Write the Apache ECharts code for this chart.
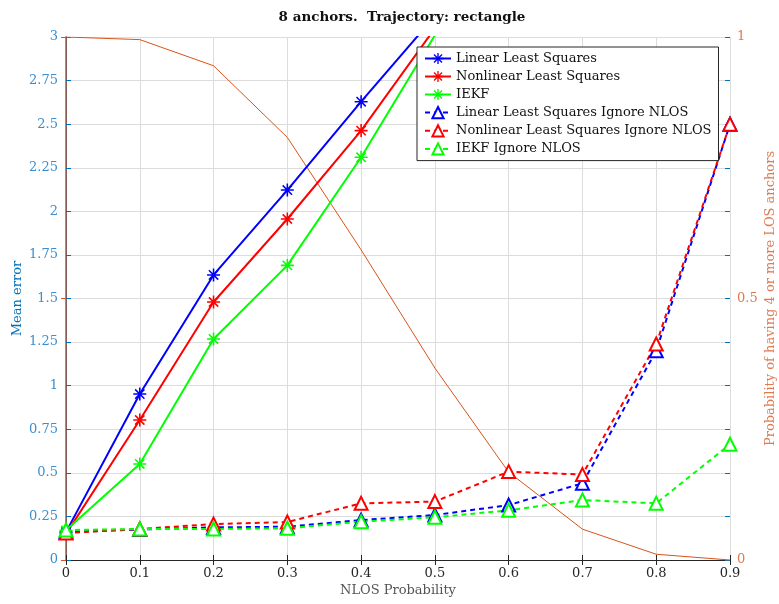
<!DOCTYPE html>
<html>
<head>
<meta charset="utf-8">
<script src="https://cdn.jsdelivr.net/npm/echarts@6/dist/echarts.min.js"></script>
<style>
  html, body { margin: 0; padding: 0; background: #fff; }
  #chart { width: 779px; height: 604px; }
</style>
</head>
<body>
<div id="chart"></div>
<script>
// NLOS probability (x)
const nlosProb = [0, 0.1, 0.2, 0.3, 0.4, 0.5, 0.6, 0.7, 0.8, 0.9];
// mean error, lines leave the plot after 0.5
const llsErr = [0.16, 0.952, 1.635, 2.122, 2.629, 3.12, null, null, null, null];
const nlsErr = [0.15, 0.803, 1.48, 1.956, 2.463, 3.05, null, null, null, null];
const iekfErr = [0.17, 0.551, 1.268, 1.69, 2.31, 3.01, null, null, null, null];
const llsIgnErr = [0.16, 0.175, 0.187, 0.191, 0.229, 0.258, 0.315, 0.44, 1.2, 2.5];
const nlsIgnErr = [0.155, 0.178, 0.206, 0.218, 0.325, 0.335, 0.507, 0.49, 1.239, 2.5];
const iekfIgnErr = [0.172, 0.178, 0.178, 0.182, 0.22, 0.245, 0.285, 0.344, 0.325, 0.664];
// probability of having 4 or more LOS anchors (right axis)
const losProb = [1, 0.995, 0.945, 0.808, 0.593, 0.367, 0.168, 0.059, 0.011, 0];

const seriesNames = ['Linear Least Squares', 'Nonlinear Least Squares', 'IEKF',
  'Linear Least Squares Ignore NLOS', 'Nonlinear Least Squares Ignore NLOS', 'IEKF Ignore NLOS'];

const FONT = 'DejaVu Serif';
const leftColor = '#0072BD';
const rightColor = '#D95319';
// asterisk marker
const asterisk = 'path://M8.8,0H11.2V20H8.8Z M0,8.8H20V11.2H0Z M2,3.7L3.7,2L18,16.3L16.3,18Z M16.3,2L18,3.7L3.7,18L2,16.3Z';

function pairs(ys) {
    return nlosProb.map((x, i) => [x, ys[i]]);
}

function errSeries(name, ys, color, dashed) {
    return {
        name: name,
        type: 'line',
        yAxisIndex: 0,
        data: pairs(ys),
        symbol: dashed ? 'emptyTriangle' : asterisk,
        symbolSize: 13,
        showAllSymbol: true,
        lineStyle: { color: color, width: 2, type: dashed ? [5, 4] : 'solid' },
        itemStyle: { color: color, borderWidth: 2 },
        emphasis: { disabled: true },
        animation: false
    };
}

let myChart = echarts.init(document.getElementById('chart'));
let option = {
    backgroundColor: '#fff',
    animation: false,
    title: {
        text: '8 anchors.  Trajectory: rectangle',
        left: 397,
        top: 5,
        textAlign: 'center',
        textStyle: { fontFamily: FONT, fontSize: 13.5, fontWeight: 'bold', color: '#111' }
    },
    grid: { left: 66, right: 49, top: 37, bottom: 44, containLabel: false, outerBoundsMode: 'none' },
    legend: {
        orient: 'vertical',
        left: 417,
        top: 47,
        data: seriesNames,
        itemWidth: 26,
        itemHeight: 14,
        itemGap: 5,
        padding: [5, 7, 5, 7],
        backgroundColor: '#fff',
        borderColor: '#262626',
        borderWidth: 1,
        borderRadius: 0,
        textStyle: { fontFamily: FONT, fontSize: 13, color: '#111' }
    },
    xAxis: [{
        type: 'value',
        min: 0, max: 0.9, interval: 0.1,
        name: 'NLOS Probability',
        nameLocation: 'middle',
        nameGap: 24,
        nameMoveOverlap: false,
        nameTextStyle: { fontFamily: FONT, fontSize: 13, color: '#555' },
        axisLine: { lineStyle: { color: '#262626', width: 1 } },
        axisTick: { inside: true, length: 5, lineStyle: { color: '#262626' } },
        axisLabel: { fontFamily: FONT, fontSize: 13, color: '#262626', margin: 7 },
        splitLine: { show: true, lineStyle: { color: '#dcdcdc', width: 1 } }
    }, {
        type: 'value',
        position: 'top',
        min: 0, max: 0.9, interval: 0.1,
        axisLine: { lineStyle: { color: '#262626', width: 1 } },
        axisTick: { inside: true, length: 5, lineStyle: { color: '#262626' } },
        axisLabel: { show: false },
        splitLine: { show: false }
    }],
    yAxis: [{
        type: 'value',
        min: 0, max: 3, interval: 0.25,
        name: 'Mean error',
        nameLocation: 'middle',
        nameGap: 42,
        nameMoveOverlap: false,
        nameTextStyle: { fontFamily: FONT, fontSize: 13, color: leftColor },
        axisLine: { show: true, lineStyle: { color: leftColor, width: 1 } },
        axisTick: { show: true, inside: true, length: 5, lineStyle: { color: leftColor } },
        axisLabel: { fontFamily: FONT, fontSize: 13, color: '#3b8fd0', margin: 8 },
        splitLine: { show: true, lineStyle: { color: '#dcdcdc', width: 1 } }
    }, {
        type: 'value',
        position: 'right',
        min: 0, max: 1, interval: 0.5,
        name: 'Probability of having 4 or more LOS anchors',
        nameLocation: 'middle',
        nameGap: 34,
        nameRotate: 90,
        nameMoveOverlap: false,
        nameTextStyle: { fontFamily: FONT, fontSize: 13, color: '#e07a50' },
        axisLine: { show: true, lineStyle: { color: '#b9562f', width: 1.5 } },
        axisTick: { show: true, inside: true, length: 5, lineStyle: { color: rightColor } },
        axisLabel: { fontFamily: FONT, fontSize: 13, color: '#e07a50', margin: 7 },
        splitLine: { show: false }
    }, {
        // left ticks mirrored on the right side
        type: 'value',
        position: 'right',
        min: 0, max: 3, interval: 0.25,
        axisLine: { show: false },
        axisTick: { show: true, inside: true, length: 5, lineStyle: { color: leftColor } },
        axisLabel: { show: false },
        splitLine: { show: false }
    }],
    series: [
        {
            name: 'losProb',
            type: 'line',
            yAxisIndex: 1,
            data: pairs(losProb),
            symbol: 'none',
            lineStyle: { color: rightColor, width: 1 },
            emphasis: { disabled: true },
            z: 1
        },
        errSeries(seriesNames[0], llsErr, '#0000ff', false),
        errSeries(seriesNames[1], nlsErr, '#ff0000', false),
        errSeries(seriesNames[2], iekfErr, '#00ff00', false),
        errSeries(seriesNames[3], llsIgnErr, '#0000ff', true),
        errSeries(seriesNames[4], nlsIgnErr, '#ff0000', true),
        errSeries(seriesNames[5], iekfIgnErr, '#00ff00', true)
    ]
};
myChart.setOption(option, true);
window.addEventListener('resize', myChart.resize);
</script>
</body>
</html>
